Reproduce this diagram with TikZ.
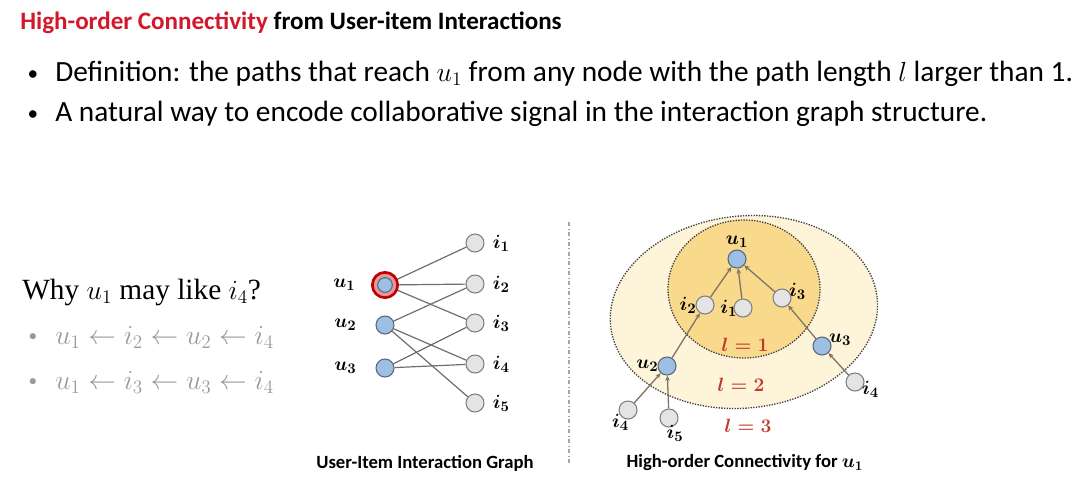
\documentclass[tikz,border=0pt]{standalone}
\usepackage{fontspec}
\setmainfont{Carlito}
\newfontfamily\cambria{Liberation Serif}
\usetikzlibrary{positioning, arrows.meta, calc, backgrounds}
\definecolor{titlered}{HTML}{D0192B}
\definecolor{userblue}{HTML}{9DBFE3}
\definecolor{itemgray}{HTML}{E4E4E4}
\definecolor{linkgray}{HTML}{6E6E6E}
\definecolor{hopgray}{HTML}{7F7766}
\definecolor{ringred}{HTML}{C00000}
\definecolor{hopgold}{HTML}{F9D98C}
\definecolor{hopcream}{HTML}{FDF4DA}
\definecolor{lred}{HTML}{C0392B}
\definecolor{pathgray}{HTML}{9A9A9A}

\begin{document}
\begin{tikzpicture}[x=0.75pt, y=-0.75pt,
    user/.style={draw=userblue!55!black, thick, circle, fill=userblue, minimum size=13.5pt, inner sep=0pt},
    item/.style={draw=gray, thick, circle, fill=itemgray, minimum size=13.5pt, inner sep=0pt},
    link/.style={draw=linkgray, line width=0.9pt},
    hop/.style={draw=hopgray, line width=1pt, -{Stealth[length=4pt, width=3.5pt]}},
    nlabel/.style={font=\fontsize{15}{17}\selectfont\boldmath, inner sep=1pt},
    hoplabel/.style={font=\fontsize{14}{16}\selectfont\boldmath, text=lred},
    caption/.style={font=\fontsize{14}{16}\selectfont\bfseries\boldmath},
    bullet/.style={font=\fontsize{22}{26}\selectfont, anchor=base west, inner sep=0pt},
    zone/.style={draw=black!75, densely dotted, line width=1pt}
]
\useasboundingbox (0,0) rectangle (1080,487);

% title and bullets
\node[anchor=base west, inner sep=0pt, font=\fontsize{18.8}{22}\selectfont\bfseries] (title) at (20,29)
    {\textcolor{titlered}{High-order Connectivity} from User-item Interactions};
\node[bullet] (def) at (55,81) {Definition: the paths that reach $u_1$ from any node with the path length $l$ larger than 1.};
\node[bullet] (nat) at (55,121) {A natural way to encode collaborative signal in the interaction graph structure.};
\node[bullet, anchor=base, font=\fontsize{16}{20}\selectfont] at (33,80) {\textbullet};
\node[bullet, anchor=base, font=\fontsize{16}{20}\selectfont] at (33,120) {\textbullet};

% why question
\node[anchor=base west, inner sep=0pt, font=\cambria\fontsize{22}{26}\selectfont] (why) at (22,299) {Why $u_1$ may like $i_4$?};
\node[anchor=base west, inner sep=0pt, text=pathgray, font=\fontsize{21}{24}\selectfont] (p1) at (55,344)
    {$u_1 \leftarrow i_2 \leftarrow u_2 \leftarrow i_4$};
\node[anchor=base west, inner sep=0pt, text=pathgray, font=\fontsize{21}{24}\selectfont] (p2) at (55,389)
    {$u_1 \leftarrow i_3 \leftarrow u_3 \leftarrow i_4$};
\node[anchor=base, text=pathgray, font=\fontsize{13}{16}\selectfont] at (33,341) {\textbullet};
\node[anchor=base, text=pathgray, font=\fontsize{13}{16}\selectfont] at (33,386) {\textbullet};

% interaction graph
\node[user, draw=ringred, line width=2pt, fill=ringred!40, minimum size=19pt] (u1ring) at (385,285) {};
\node[user, minimum size=11pt] (u1) at (385,285) {};
\node[user] (u2) at (385,325) {};
\node[user] (u3) at (385,368) {};
\foreach \n/\y in {1/243, 2/284, 3/323, 4/364, 5/403}
    \node[item] (i\n) at (475,\y) {};

\begin{scope}[on background layer]
\foreach \u/\i in {u1/i1, u1/i2, u1/i3, u2/i2, u2/i4, u2/i5, u3/i3, u3/i4}
    \draw[link] (\u) -- (\i);
\end{scope}

\node[nlabel, left=15pt of u1] {$u_1$};
\node[nlabel, left=13pt of u2] {$u_2$};
\node[nlabel, left=13pt of u3] {$u_3$};
\foreach \n in {1,...,5}
    \node[nlabel, right=5pt of i\n] {$i_\n$};

\node[caption] (cap1) at (425,463) {User-Item Interaction Graph};

% separator
\draw[black!35, dash dot, line width=0.8pt] (569,222) -- (569,465);

% high-order connectivity
\draw[zone, fill=hopcream, rotate around={6:(744,313)}] (744,312) ellipse [x radius=134, y radius=96];
\draw[zone, fill=hopgold] (744,289) ellipse [x radius=76, y radius=69];

\node[user] (ru1) at (737,259) {};
\node[item] (ri2) at (705,305) {};
\node[item] (ri1) at (743,308) {};
\node[item] (ri3) at (782,298) {};
\node[user] (ru3) at (822,346) {};
\node[item] (ri4b) at (855,382) {};
\node[user] (ru2) at (667,366) {};
\node[item] (ri4a) at (628,410) {};
\node[item] (ri5) at (669,418) {};

\draw[hop] (ri2) -- (ru1);
\draw[hop] (ri1) -- (ru1);
\draw[hop] (ri3) -- (ru1);
\draw[hop] (ru2) -- (ri2);
\draw[hop] (ru3) -- (ri3);
\draw[hop] (ri4a) -- (ru2);
\draw[hop] (ri5) -- (ru2);
\draw[hop] (ri4b) -- (ru3);

\node[nlabel, above=0pt of ru1] {$u_1$};
\node[nlabel, left=-2pt of ri2] {$i_2$};
\node[nlabel, left=-4pt of ri1] {$i_1$};
\node[nlabel, above right=-7pt and -1pt of ri3] {$i_3$};
\node[nlabel, above right=-6pt and -1pt of ru3] {$u_3$};
\node[nlabel, below right=-7pt and -1pt of ri4b] {$i_4$};
\node[nlabel, left=-2pt of ru2] {$u_2$};
\node[nlabel, below left=-3pt and -7pt of ri4a] {$i_4$};
\node[nlabel, below right=-1pt and -8pt of ri5] {$i_5$};

\node[hoplabel] (l1) at (745,345) {$l = 1$};
\node[hoplabel] (l2) at (741,385) {$l = 2$};
\node[hoplabel] (l3) at (748,426) {$l = 3$};

\node[caption] (cap2) at (745,463) {High-order Connectivity for $u_1$};
\end{tikzpicture}
\end{document}
